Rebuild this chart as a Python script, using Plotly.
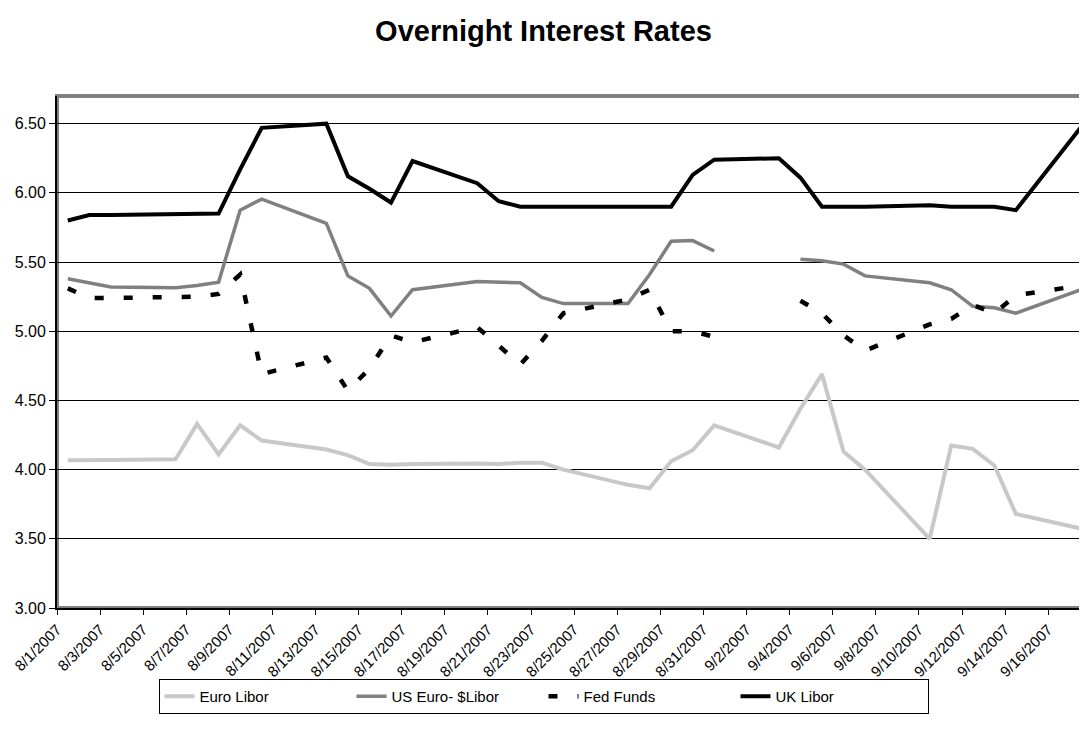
import plotly.graph_objects as go
from datetime import datetime, timedelta

dates = ["2007-08-01", "2007-08-02", "2007-08-03", "2007-08-06", "2007-08-07", "2007-08-08",
         "2007-08-09", "2007-08-10", "2007-08-13", "2007-08-14", "2007-08-15", "2007-08-16",
         "2007-08-17", "2007-08-20", "2007-08-21", "2007-08-22", "2007-08-23", "2007-08-24",
         "2007-08-27", "2007-08-28", "2007-08-29", "2007-08-30", "2007-08-31", "2007-09-03",
         "2007-09-04", "2007-09-05", "2007-09-06", "2007-09-07", "2007-09-10", "2007-09-11",
         "2007-09-12", "2007-09-13", "2007-09-14", "2007-09-17"]

euro_libor = [4.067, 4.065, 4.07, 4.075, 4.33, 4.11, 4.32, 4.21,
              4.145, 4.105, 4.04, 4.035, 4.04,
              4.045, 4.04, 4.05, 4.05, 4.00,
              3.89, 3.865, 4.06, 4.14, 4.32,
              4.16, 4.44, 4.69, 4.13, 4.00,
              3.50, 4.175, 4.15, 4.03, 3.68,
              3.575]

us_euro_libor = [5.38, 5.35, 5.32, 5.315, 5.33, 5.355, 5.875, 5.955,
                 5.78, 5.40, 5.31, 5.11, 5.30,
                 5.36, 5.355, 5.35, 5.245, 5.20,
                 5.20, 5.41, 5.65, 5.655, 5.58,
                 None, 5.52, 5.51, 5.485, 5.40,
                 5.35, 5.30, 5.18, 5.17, 5.13,
                 5.30]

fed_funds = [5.31, 5.24, 5.24, 5.25, 5.25, 5.27, 5.41, 4.69,
             4.81, 4.57, 4.73, 4.97, 4.92,
             5.03, 4.89, 4.76, 4.93, 5.13,
             5.23, 5.30, 5.00, 5.00, 4.96,
             None, 5.22, 5.13, 4.97, 4.86,
             5.05, 5.09, 5.19, 5.13, 5.26,
             5.33]

uk_libor = [5.80, 5.84, 5.84, 5.845, 5.85, 5.85, 6.17, 6.47,
            6.50, 6.12, 6.03, 5.93, 6.23,
            6.07, 5.94, 5.90, 5.90, 5.90,
            5.90, 5.90, 5.90, 6.13, 6.24,
            6.25, 6.11, 5.90, 5.90, 5.90,
            5.91, 5.90, 5.90, 5.90, 5.875,
            6.47]

tick_labels = ["8/1/2007", "8/3/2007", "8/5/2007", "8/7/2007", "8/9/2007", "8/11/2007",
               "8/13/2007", "8/15/2007", "8/17/2007", "8/19/2007", "8/21/2007", "8/23/2007",
               "8/25/2007", "8/27/2007", "8/29/2007", "8/31/2007", "9/2/2007", "9/4/2007",
               "9/6/2007", "9/8/2007", "9/10/2007", "9/12/2007", "9/14/2007", "9/16/2007"]

# ticks sit on the boundaries between date bins (half a day before each date)
tickvals = [(datetime.strptime(t, "%m/%d/%Y") - timedelta(hours=12)).strftime("%Y-%m-%d %H:%M")
            for t in tick_labels]

FONT = "Arial, Liberation Sans, sans-serif"
W, H = 1079, 736  # page body has an 8px margin

fig = go.Figure()
fig.add_trace(go.Scatter(x=dates, y=euro_libor, name="Euro Libor", mode="lines",
                         line=dict(color="#c8c8c8", width=4), connectgaps=False))
fig.add_trace(go.Scatter(x=dates, y=us_euro_libor, name="US Euro- $Libor", mode="lines",
                         line=dict(color="#808080", width=3.5), connectgaps=False))
fig.add_trace(go.Scatter(x=dates, y=fed_funds, name="Fed Funds", mode="lines",
                         line=dict(color="#000000", width=4.5, dash="9px,20px"), connectgaps=False))
fig.add_trace(go.Scatter(x=dates, y=uk_libor, name="UK Libor", mode="lines",
                         line=dict(color="#000000", width=4), connectgaps=False))

fig.update_layout(
    width=W, height=H,
    paper_bgcolor="white", plot_bgcolor="white",
    margin=dict(l=49, r=0, t=88, b=136, autoexpand=False),
    font=dict(family=FONT, size=15, color="black"),
    title=dict(text="<b>Overnight Interest Rates</b>", x=535.5 / W, xanchor="center", xref="container",
               y=1 - 23 / H, yanchor="middle", yref="container",
               font=dict(family=FONT, size=29, color="black")),
    showlegend=True,
    legend=dict(orientation="h", xref="container", x=535.5 / W, xanchor="center",
                yref="container", y=1 - 688.5 / H, yanchor="middle",
                bordercolor="black", borderwidth=1, bgcolor="white",
                font=dict(family=FONT, size=15, color="black"),
                entrywidth=147, entrywidthmode="pixels", traceorder="normal"),
    xaxis=dict(type="date", range=["2007-07-31 12:00", "2007-09-17 07:12"],
               tickmode="array", tickvals=tickvals, ticktext=tick_labels,
               tickangle=-45, ticks="outside", ticklen=5, tickcolor="black",
               showgrid=False, showline=True, linecolor="black", linewidth=2,
               zeroline=False, tickfont=dict(family=FONT, size=15)),
    yaxis=dict(range=[3, 6.7], dtick=0.5, tick0=3, tickformat=".2f",
               ticks="outside", ticklen=6, tickcolor="black",
               showgrid=True, gridcolor="black", gridwidth=1,
               showline=True, linecolor="black", linewidth=2, zeroline=False,
               tickfont=dict(family=FONT, size=16)),
    shapes=[dict(type="rect", xref="paper", yref="paper", x0=0, x1=1, y0=0, y1=1,
                 line=dict(color="#808080", width=4), layer="below")],
)

fig.write_html("out.html")
